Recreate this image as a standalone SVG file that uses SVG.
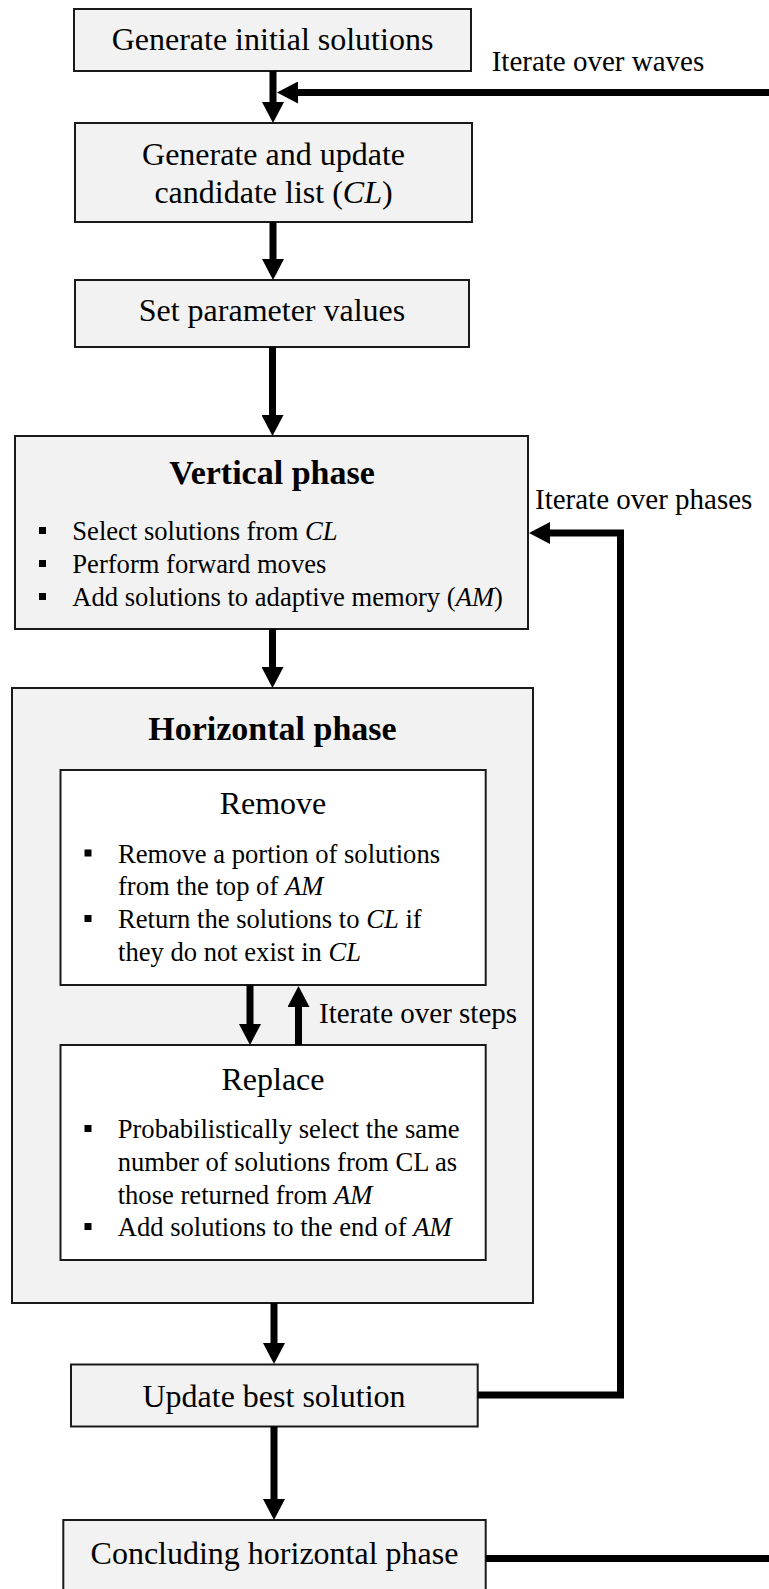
<svg xmlns="http://www.w3.org/2000/svg" width="769" height="1589" viewBox="0 0 769 1589">
<style>
.box{fill:#f2f2f2;stroke:#1a1a1a;stroke-width:2}
.wbox{fill:#ffffff;stroke:#1a1a1a;stroke-width:2}
.t{font-family:"Liberation Serif","Times New Roman",serif;font-size:32px;fill:#000;text-anchor:middle}
.h{font-family:"Liberation Serif","Times New Roman",serif;font-size:34px;font-weight:bold;fill:#000;text-anchor:middle}
.b{font-family:"Liberation Serif","Times New Roman",serif;font-size:26.6px;fill:#000}
.l{font-family:"Liberation Serif","Times New Roman",serif;font-size:29px;fill:#000}
.m{font-style:italic}
.c{fill:none;stroke:#000;stroke-width:7;stroke-linejoin:miter}
.bul{fill:#000}
</style>
<defs>
<marker id="ah" viewBox="0 0 21 22" markerWidth="21" markerHeight="22" refX="1" refY="11" orient="auto" markerUnits="userSpaceOnUse">
<path d="M0,0 L21,11 L0,22 z" fill="#000"/>
</marker>
</defs>

<g id="n-generate-initial">
<rect class="box" x="74" y="9" width="397" height="62"/>
<text class="t" x="272.5" y="50">Generate initial solutions</text>
</g>

<g id="n-candidate-list">
<rect class="box" x="75" y="123" width="397" height="99"/>
<text class="t" x="273.5" y="165">Generate and update</text>
<text class="t" x="273.5" y="203">candidate list (<tspan class="m">CL</tspan>)</text>
</g>

<g id="n-set-parameters">
<rect class="box" x="75" y="280" width="394" height="67"/>
<text class="t" x="272" y="321">Set parameter values</text>
</g>

<g id="n-vertical-phase">
<rect class="box" x="15" y="436" width="513" height="193"/>
<text class="h" x="272" y="484">Vertical phase</text>
<rect class="bul" x="39" y="527" width="7" height="7"/>
<text class="b" x="72.3" y="540">Select solutions from <tspan class="m">CL</tspan></text>
<rect class="bul" x="39" y="560" width="7" height="7"/>
<text class="b" x="72.3" y="573">Perform forward moves</text>
<rect class="bul" x="39" y="593" width="7" height="7"/>
<text class="b" x="72.3" y="606">Add solutions to adaptive memory (<tspan class="m">AM</tspan>)</text>
</g>

<g id="n-horizontal-phase">
<rect class="box" x="12" y="688" width="521" height="615"/>
<text class="h" x="272.5" y="740">Horizontal phase</text>
</g>

<g id="n-remove">
<rect class="wbox" x="60.5" y="770" width="425.2" height="215"/>
<text class="t" x="273" y="814">Remove</text>
<rect class="bul" x="84.5" y="849.5" width="7" height="7"/>
<text class="b" x="118" y="862.5">Remove a portion of solutions</text>
<text class="b" x="118" y="895">from the top of <tspan class="m">AM</tspan></text>
<rect class="bul" x="84.5" y="915" width="7" height="7"/>
<text class="b" x="118" y="928">Return the solutions to <tspan class="m">CL</tspan> if</text>
<text class="b" x="118" y="961">they do not exist in <tspan class="m">CL</tspan></text>
</g>

<g id="n-replace">
<rect class="wbox" x="60.5" y="1045" width="425.2" height="215"/>
<text class="t" x="273" y="1090">Replace</text>
<rect class="bul" x="84.5" y="1125" width="7" height="7"/>
<text class="b" x="117.7" y="1138">Probabilistically select the same</text>
<text class="b" x="117.7" y="1171">number of solutions from CL as</text>
<text class="b" x="117.7" y="1203.5">those returned from <tspan class="m">AM</tspan></text>
<rect class="bul" x="84.5" y="1223" width="7" height="7"/>
<text class="b" x="117.7" y="1236">Add solutions to the end of <tspan class="m">AM</tspan></text>
</g>

<g id="n-update-best">
<rect class="box" x="71" y="1364.5" width="406.7" height="62"/>
<text class="t" x="274" y="1406.5">Update best solution</text>
</g>

<g id="n-concluding">
<rect class="box" x="63.3" y="1520" width="422.4" height="80"/>
<text class="t" x="274.5" y="1563.5">Concluding horizontal phase</text>
</g>

<g id="connectors">
<line class="c" x1="273" y1="71" x2="273" y2="103" marker-end="url(#ah)"/>
<line class="c" x1="273" y1="222" x2="273" y2="260" marker-end="url(#ah)"/>
<line class="c" x1="272.5" y1="347" x2="272.5" y2="416" marker-end="url(#ah)"/>
<line class="c" x1="272.5" y1="629" x2="272.5" y2="668" marker-end="url(#ah)"/>
<line class="c" x1="250" y1="985" x2="250" y2="1025" marker-end="url(#ah)"/>
<line class="c" x1="298.5" y1="1045" x2="298.5" y2="1006" marker-end="url(#ah)"/>
<line class="c" x1="274" y1="1303" x2="274" y2="1344" marker-end="url(#ah)"/>
<line class="c" x1="274" y1="1426.5" x2="274" y2="1500" marker-end="url(#ah)"/>
<line class="c" x1="769" y1="92.5" x2="297" y2="92.5" marker-end="url(#ah)"/>
<polyline class="c" points="477.7,1395 620.5,1395 620.5,533 549,533" marker-end="url(#ah)"/>
<line class="c" x1="485.7" y1="1558.5" x2="769" y2="1558.5"/>
<text class="l" x="491.7" y="71">Iterate over waves</text>
<text class="l" x="535" y="509">Iterate over phases</text>
<text class="l" x="319" y="1023">Iterate over steps</text>
</g>
</svg>
